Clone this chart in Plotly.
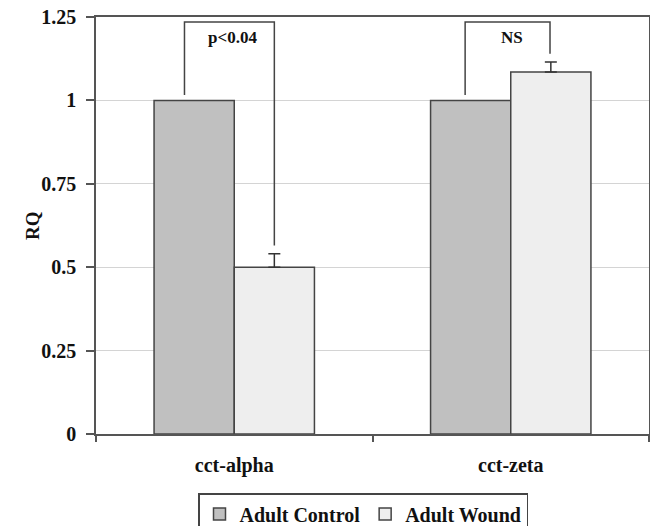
import plotly.graph_objects as go

categories = ["cct-alpha", "cct-zeta"]
control = [1.0, 1.0]
wound = [0.50, 1.085]
wound_err = [0.04, 0.03]
sig_labels = ["p<0.04", "NS"]
y_ticks = [0, 0.25, 0.5, 0.75, 1, 1.25]
y_ticklabels = ["0", "0.25", "0.5", "0.75", "1", "1.25"]

FONT = "Liberation Serif, Times New Roman, serif"
AX = "#555555"
BORDER = "#444444"

W, H = 650, 526
L, T, R, B = 96, 17, 1, 526 - 434
PW, PH = W - L - R, H - T - B

fig = go.Figure()
fig.add_trace(go.Bar(
    name="<b>Adult Control</b>", x=categories, y=control,
    marker=dict(color="#c0c0c0", line=dict(color=BORDER, width=1.5)),
))
fig.add_trace(go.Bar(
    name="<b>Adult Wound</b>", x=categories, y=wound,
    marker=dict(color="#eeeeee", line=dict(color=BORDER, width=1.5)),
    error_y=dict(type="data", symmetric=False, array=wound_err,
                 arrayminus=[0] * len(wound_err),
                 color="#333333", thickness=1.5, width=6),
))

# significance brackets
bargap = 0.42
bw = (1 - bargap) / 2
shapes = []
annotations = []
top_y = 1.235
for i, cat in enumerate(categories):
    left_x = i - bw / 2 - 0.035 + 0.015 * i
    right_x = i + bw / 2 - 0.003 * i
    left_bottom = control[i] + 0.016
    right_bottom = wound[i] + wound_err[i] + 0.025
    path = (f"M {left_x} {left_bottom} L {left_x} {top_y} "
            f"L {right_x} {top_y} L {right_x} {right_bottom}")
    shapes.append(dict(type="path", xref="x", yref="y", path=path,
                       line=dict(color=BORDER, width=1.5)))
    annotations.append(dict(x=i - 0.008 + 0.012 * i, y=1.19, xref="x", yref="y",
                            text=f"<b>{sig_labels[i]}</b>", showarrow=False,
                            font=dict(family=FONT, size=17, color="#111")))

annotations.append(dict(x=(20 - 96) / PW, y=0.5, xref="paper", yref="paper",
                        text="<b>RQ</b>", textangle=-90, showarrow=False,
                        font=dict(family=FONT, size=19, color="#111")))

fig.update_layout(
    width=W, height=H,
    margin=dict(l=L, r=R, t=T, b=B, autoexpand=False),
    paper_bgcolor="white", plot_bgcolor="white",
    barmode="group", bargap=bargap, bargroupgap=0,
    font=dict(family=FONT, color="#111"),
    shapes=shapes, annotations=annotations,
    showlegend=True,
    legend=dict(orientation="h", x=(363 - 96) / PW, xanchor="center",
                y=-(493 - 434) / PH, yanchor="top",
                bordercolor=BORDER, borderwidth=1.5,
                font=dict(family=FONT, size=20, color="#111"),
                itemwidth=30, traceorder="normal"),
)
fig.update_xaxes(
    type="category", range=[-0.5, 1.5],
    showline=True, linecolor=AX, linewidth=1.5, mirror=True,
    ticks="outside", ticklen=6, tickcolor=AX, tickwidth=1.5, tickson="boundaries",
    tickfont=dict(family=FONT, size=20, color="#111"),
    ticktext=[f"<b>{c}</b>" for c in categories], tickvals=categories,
    ticklabelstandoff=12, showgrid=False,
)
fig.update_yaxes(
    range=[0, 1.25], tickvals=y_ticks, ticktext=[f"<b>{t}</b>" for t in y_ticklabels],
    showline=True, linecolor=AX, linewidth=1.5, mirror=True,
    ticks="outside", ticklen=8, tickcolor=AX, tickwidth=1.5,
    tickfont=dict(family=FONT, size=20, color="#111"),
    showgrid=True, gridcolor="#d4d4d4", gridwidth=1, zeroline=False,
    ticklabelstandoff=6, ticklabeloverflow="allow",
)

fig.write_html("out.html", config={"displayModeBar": False},
               post_script="document.body.style.margin='0';document.body.style.overflow='hidden';")
